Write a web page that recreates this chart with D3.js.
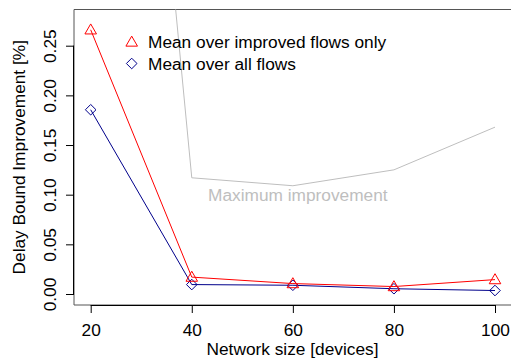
<!DOCTYPE html>
<html>
<head>
<meta charset="utf-8">
<script src="https://cdn.jsdelivr.net/npm/d3@7"></script>
<style>
  body { margin: 0; background: #fff; }
  text { font-family: "Liberation Sans", Arial, sans-serif; }
</style>
</head>
<body>
<svg id="chart"></svg>
<script>
// network sizes on the x axis
var sizes = [20, 40, 60, 80, 100];
// mean over improved flows only (red triangles)
var improvedMean = [0.266, 0.017, 0.0105, 0.0075, 0.0145];
// mean over all flows (blue diamonds)
var allMean = [0.1855, 0.0095, 0.0088, 0.0053, 0.0035];
// maximum improvement (grey line)
var maxImprovement = [1.18, 0.117, 0.109, 0.125, 0.168];
var xTicks = [20, 40, 60, 80, 100];
var yTicks = [0, 0.05, 0.1, 0.15, 0.2, 0.25];

var width = 511, height = 362;
var box = { left: 74, top: 9.5, right: 512, bottom: 305 };
var fs = 17.3;

var svg = d3.select("#chart").attr("width", width).attr("height", height);

var x = d3.scaleLinear().domain([20, 100]).range([90.7, 495]);
var y = d3.scaleLinear().domain([0, 0.25]).range([294, 45.7]);

// clip so the grey line stops at the box
svg.append("defs").append("clipPath").attr("id", "clip")
  .append("rect")
  .attr("x", box.left).attr("y", box.top)
  .attr("width", box.right - box.left).attr("height", box.bottom - box.top);

// box round the plot
svg.append("path")
  .attr("d", `M${box.right},${box.top}H${box.left}V${box.bottom}H${box.right}`)
  .attr("fill", "none").attr("stroke", "#555").attr("stroke-width", 1);

// x axis
var xAxis = svg.append("g").attr("transform", `translate(0,${box.bottom})`)
  .call(d3.axisBottom(x).tickValues(xTicks).tickSize(8).tickPadding(6).tickSizeOuter(0));
xAxis.select(".domain").attr("d", `M${x(20)},0.5H${x(100)}`).attr("stroke", "#000");
xAxis.selectAll("text").style("font-size", fs + "px").attr("fill", "#000")
  .attr("dy", null).attr("y", 30.7);

// y axis
var yAxis = svg.append("g").attr("transform", `translate(${box.left},0)`)
  .call(d3.axisLeft(y).tickValues(yTicks).tickSize(8).tickFormat(d3.format(".2f")).tickSizeOuter(0));
yAxis.select(".domain").attr("d", `M-0.5,${y(0)}V${y(0.25)}`).attr("stroke", "#000");
yAxis.selectAll(".tick text")
  .style("font-size", fs + "px").attr("fill", "#000")
  .attr("x", null).attr("dy", null)
  .attr("text-anchor", "middle")
  .attr("transform", "translate(-18.5,0) rotate(-90)");

// axis titles
svg.append("text")
  .attr("x", (box.left + 511) / 2).attr("y", 355)
  .attr("text-anchor", "middle").style("font-size", fs + "px")
  .text("Network size [devices]");
svg.append("text")
  .attr("transform", `translate(24.5,${(box.top + box.bottom) / 2}) rotate(-90)`)
  .attr("text-anchor", "middle").style("font-size", fs + "px")
  .text("Delay Bound Improvement [%]");

var plot = svg.append("g").attr("clip-path", "url(#clip)");

function lineOf(vals) {
  return d3.line().x((d, i) => x(sizes[i])).y((d) => y(d))(vals);
}

// grey maximum line
plot.append("path").attr("d", lineOf(maxImprovement))
  .attr("fill", "none").attr("stroke", "#bebebe").attr("stroke-width", 1);
svg.append("text")
  .attr("x", 208).attr("y", 201)
  .style("font-size", fs + "px").attr("fill", "#bebebe")
  .text("Maximum improvement");

var tri = d3.symbol().type(d3.symbolTriangle).size(58);
var dia = "M0,-5.3L5.3,0L0,5.3L-5.3,0Z";

// blue series
plot.append("path").attr("d", lineOf(allMean))
  .attr("fill", "none").attr("stroke", "#00008b").attr("stroke-width", 1);
plot.selectAll(".dia").data(allMean).enter().append("path")
  .attr("d", dia)
  .attr("transform", (d, i) => `translate(${x(sizes[i])},${y(d)})`)
  .attr("fill", "none").attr("stroke", "#00008b").attr("stroke-width", 1);

// red series
plot.append("path").attr("d", lineOf(improvedMean))
  .attr("fill", "none").attr("stroke", "#ff0000").attr("stroke-width", 1);
plot.selectAll(".tri").data(improvedMean).enter().append("path")
  .attr("d", tri)
  .attr("transform", (d, i) => `translate(${x(sizes[i])},${y(d) + 0.8})`)
  .attr("fill", "none").attr("stroke", "#ff0000").attr("stroke-width", 1);

// legend
var legend = [
  { label: "Mean over improved flows only", color: "#ff0000", shape: "tri", cy: 42 },
  { label: "Mean over all flows", color: "#00008b", shape: "dia", cy: 63.5 }
];
legend.forEach(function (l) {
  svg.append("path")
    .attr("d", l.shape == "tri" ? tri() : dia)
    .attr("transform", `translate(131.7,${l.cy + (l.shape == "tri" ? 0.8 : 0)})`)
    .attr("fill", "none").attr("stroke", l.color).attr("stroke-width", 1);
  svg.append("text")
    .attr("x", 148).attr("y", l.cy + 6.3)
    .style("font-size", fs + "px")
    .text(l.label);
});
</script>
</body>
</html>
